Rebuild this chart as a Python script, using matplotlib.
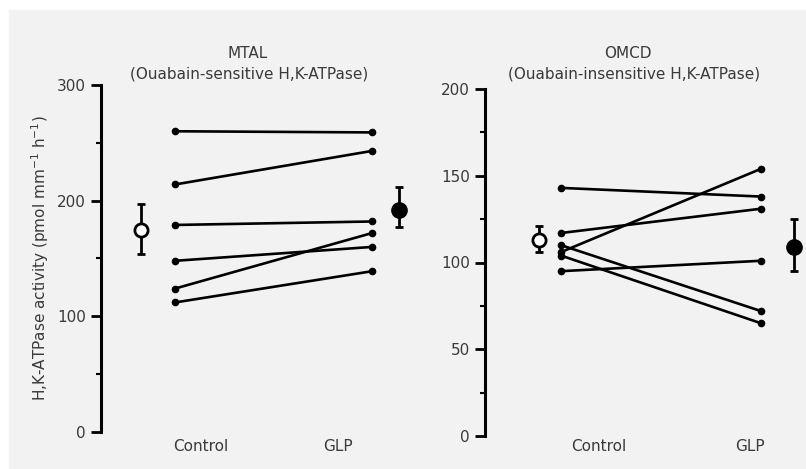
import matplotlib
matplotlib.use('Agg')
import matplotlib.pyplot as plt
from matplotlib.patches import Rectangle
from matplotlib.ticker import MultipleLocator

plt.rcParams['font.family'] = ['DejaVu Sans']

# ---- data ----
groups = ['Control', 'GLP']

mtal_control = [260, 214, 179, 148, 124, 112]
mtal_glp = [259, 243, 182, 160, 172, 139]
mtal_mean = [175, 192]
mtal_err_low = [21, 15]
mtal_err_high = [22, 20]

omcd_control = [143, 117, 106, 95, 110, 104]
omcd_glp = [138, 131, 154, 101, 72, 65]
omcd_mean = [113, 109]
omcd_err_low = [7, 14]
omcd_err_high = [8, 16]

W, H = 806, 469
fig = plt.figure(figsize=(W / 100, H / 100), dpi=100, facecolor='white')
fig.patches.append(Rectangle((9 / W, 1 / H), 1 - 9 / W, 1 - 11 / H,
                             transform=fig.transFigure, color='#f2f2f2', zorder=-10))

TXT = '#3a3a3a'
FS = 11


def px_axes(left, top, bottom, width):
    return fig.add_axes([left / W, 1 - bottom / H, width / W, (bottom - top) / H])


def ftext(x, y, s):
    # text placed in figure pixels (from top-left)
    fig.text(x / W, 1 - y / H, s, ha='center', va='center', fontsize=FS, color=TXT)


def panel(ax, ctrl, glp, mean, elo, ehi, ymax, major, xs):
    x_mc, x_c, x_g, x_mg = xs
    for a, b in zip(ctrl, glp):
        ax.plot([x_c, x_g], [a, b], color='black', lw=1.9, marker='o', ms=4.5,
                clip_on=False, solid_capstyle='round')
    ax.errorbar([x_mc], [mean[0]], yerr=[[elo[0]], [ehi[0]]], fmt='o', ms=9.5,
                mfc='white', mec='black', mew=2, ecolor='black', elinewidth=2,
                capsize=3.2, capthick=2, clip_on=False)
    ax.errorbar([x_mg], [mean[1]], yerr=[[elo[1]], [ehi[1]]], fmt='o', ms=11,
                mfc='black', mec='black', ecolor='black', elinewidth=2,
                capsize=3.2, capthick=2, clip_on=False)
    ax.set_xlim(0, 320)
    ax.set_ylim(0, ymax)
    ax.patch.set_visible(False)
    for s in ['top', 'right', 'bottom']:
        ax.spines[s].set_visible(False)
    ax.spines['left'].set_linewidth(2.2)
    ax.set_xticks([])
    ax.yaxis.set_major_locator(MultipleLocator(major))
    ax.yaxis.set_minor_locator(MultipleLocator(major / 2))
    ax.tick_params(axis='y', which='major', length=7, width=2, pad=4,
                   labelsize=FS, labelcolor=TXT)
    ax.tick_params(axis='y', which='minor', length=3.5, width=1.5)


ax1 = px_axes(101, 85, 432, 320)
panel(ax1, mtal_control, mtal_glp, mtal_mean, mtal_err_low, mtal_err_high, 300, 100,
      (40, 74, 271, 298))
ax1.set_ylabel('H,K-ATPase activity (pmol mm$^{-1}$ h$^{-1}$)', fontsize=FS,
               color=TXT, labelpad=4)

ax2 = px_axes(485, 89, 436, 320)
panel(ax2, omcd_control, omcd_glp, omcd_mean, omcd_err_low, omcd_err_high, 200, 50,
      (54, 76, 276, 309))

# titles and group labels
ftext(248, 53, 'MTAL')
ftext(249, 74, '(Ouabain-sensitive H,K-ATPase)')
ftext(628, 53, 'OMCD')
ftext(634, 74, '(Ouabain-insensitive H,K-ATPase)')
for g, xl in zip(groups, (201, 338)):
    ftext(xl, 446, g)
for g, xl in zip(groups, (599, 750)):
    ftext(xl, 446, g)

fig.savefig('out.png', dpi=100)
